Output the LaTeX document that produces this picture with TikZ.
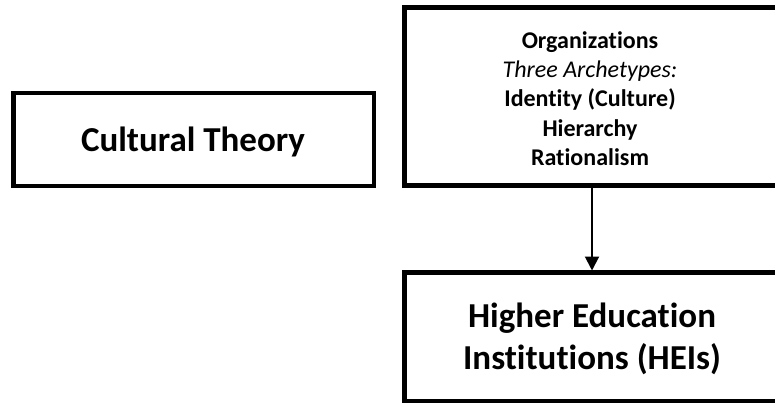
\documentclass[tikz,border=0pt]{standalone}
\usepackage{fontspec}
\setmainfont{Carlito}[Ligatures={NoCommon}]
\usetikzlibrary{arrows.meta}
\begin{document}
\begin{tikzpicture}[x=1pt,y=-1pt,
  boxline/.style={draw=black,line width=4.5pt,fill=white},
  bigtext/.style={font=\bfseries\fontsize{35}{42}\selectfont,align=center},
  smalltext/.style={font=\fontsize{24}{29.25}\selectfont,align=center},
  conn/.style={line width=2pt,-{Triangle[width=14pt,length=14pt]}}]
\useasboundingbox (0,0) rectangle (775,403);
\clip (0,0) rectangle (775,403);
\draw[boxline] (13.5,93) rectangle (374,186);
\draw[boxline] (404.5,7.5) rectangle (778,185.5);
\draw[boxline] (404.5,272.5) rectangle (780,401.5);
\node[bigtext] (ct) at (193,142) {Cultural Theory};
\node[smalltext] (org) at (590,98.5) {\textbf{Organizations}\\\textit{Three Archetypes:}\\\textbf{Identity (Culture)}\\\textbf{Hierarchy}\\\textbf{Rationalism}};
\node[bigtext] (hei) at (592,339) {Higher Education\\Institutions (HEIs)};
\coordinate (a1) at (592,187.5);
\coordinate (a2) at (592,270.5);
\draw[conn] (a1) -- (a2);
\end{tikzpicture}
\end{document}
